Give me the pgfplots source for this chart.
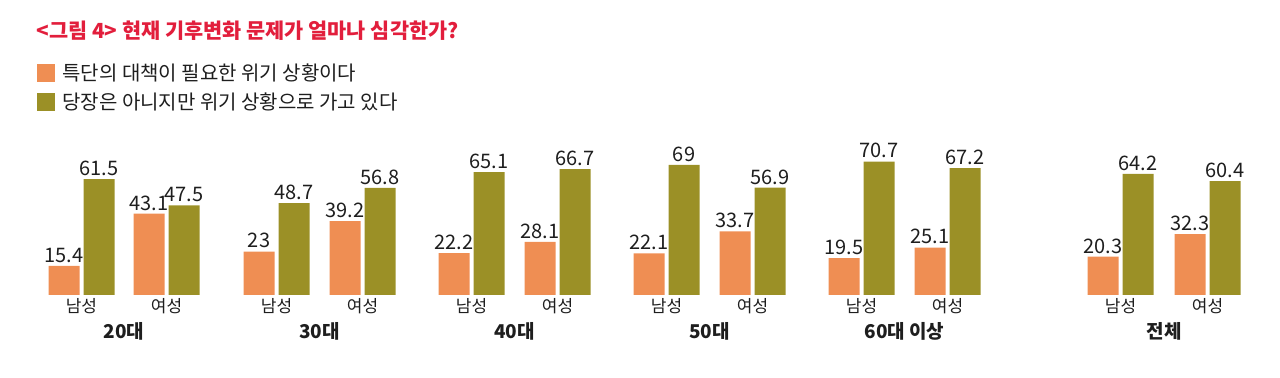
\documentclass[border=0pt]{standalone}
\usepackage{fontspec}
\setmainfont{Noto Sans CJK KR}
\usepackage{pgfplots}
\pgfplotsset{compat=1.18}
\definecolor{ora}{RGB}{239,142,83}
\definecolor{oli}{RGB}{155,144,38}
\definecolor{tred}{RGB}{226,30,60}
\definecolor{txt}{RGB}{30,30,30}
\begin{document}
\begin{tikzpicture}[x=0.5pt,y=0.5pt]
\useasboundingbox (0,0) rectangle (1280,378);
\node[anchor=west, inner sep=0pt, text=tred, font=\bfseries\fontsize{10.4}{12}\selectfont] at (36,378-31) {<그림 4> 현재 기후변화 문제가 얼마나 심각한가?};
\fill[ora] (37,378-82) rectangle (55,378-64);
\fill[oli] (37,378-111) rectangle (55,378-93);
\node[anchor=west, inner sep=0pt, text=txt, font=\fontsize{10}{12}\selectfont] at (62,378-73) {특단의 대책이 필요한 위기 상황이다};
\node[anchor=west, inner sep=0pt, text=txt, font=\fontsize{10}{12}\selectfont] at (62,378-102) {당장은 아니지만 위기 상황으로 가고 있다};
\begin{axis}[at={(0pt,41.5pt)}, anchor=south west, scale only axis,
  x=0.5pt, y=0.943pt, xmin=0, xmax=1280, ymin=0, ymax=100,
  axis y line=none, axis x line*=bottom, x axis line style={draw=none},
  xtick style={draw=none}, ytick=\empty, clip=false,
  xtick={81.5,166.5,276.5,362.5,471.5,557.5,666.5,752.5,861.5,947.5,1120.5,1207.5},
  xticklabels={남성,여성,남성,여성,남성,여성,남성,여성,남성,여성,남성,여성},
  xticklabel style={font=\fontsize{8.5}{10}\selectfont, text=txt, yshift=1.6pt},
  /pgf/number format/assume math mode=true,
  nodes near coords,
  every node near coord/.append style={font=\fontsize{10}{12}\selectfont, text=txt, inner sep=1.5pt},
  ]
\addplot[ybar, bar width=15.5pt, bar shift=0pt, fill=ora, draw=none] coordinates {
(64,15.4) (149,43.1) (259,23) (345,39.2) (454,22.2) (540,28.1) (649,22.1) (735,33.7) (844,19.5) (930,25.1) (1103,20.3) (1190,32.3)};
\addplot[ybar, bar width=15.5pt, bar shift=0pt, fill=oli, draw=none] coordinates {
(99,61.5) (184,47.5) (294,48.7) (380,56.8) (489,65.1) (575,66.7) (684,69) (770,56.9) (879,70.7) (965,67.2) (1138,64.2) (1225,60.4)};
\end{axis}
\foreach \cx/\lab in {124/20대, 319.5/30대, 514.5/40대, 709.5/50대, 904.5/60대 이상, 1164/전체}
  \node[inner sep=0pt, text=txt, font=\bfseries\fontsize{9.5}{11}\selectfont] at (\cx,378-331) {\lab};
\end{tikzpicture}
\end{document}
